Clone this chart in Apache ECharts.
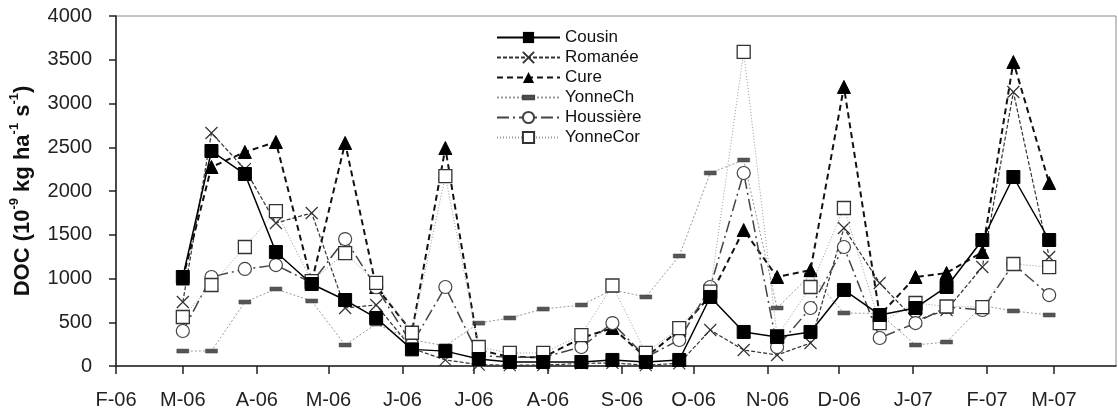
<!DOCTYPE html>
<html>
<head>
<meta charset="utf-8">
<script src="https://cdn.jsdelivr.net/npm/echarts@6/dist/echarts.min.js"></script>
<style>
html,body{margin:0;padding:0;background:#fff;}
#c{width:1118px;height:418px;}
</style>
</head>
<body>
<div id="c"></div>
<script>
// ---- data ----
const dates = ['2006-03-01','2006-03-13','2006-03-27','2006-04-09','2006-04-24','2006-05-08','2006-05-21',
  '2006-06-05','2006-06-19','2006-07-03','2006-07-16','2006-07-30','2006-08-15','2006-08-28','2006-09-11',
  '2006-09-25','2006-10-08','2006-10-22','2006-11-05','2006-11-19','2006-12-03','2006-12-18','2007-01-02',
  '2007-01-15','2007-01-30','2007-02-12','2007-02-27'];
const cousin    = [1017,2457,2194,1303,937,754,549,190,170,80,46,46,46,69,46,69,789,389,331,389,869,583,663,903,1440,2160,1440];
const romanee   = [731,2663,2250,1634,1749,663,697,200,70,15,10,10,30,35,10,30,411,183,126,263,1577,949,520,640,1131,3131,1246];
const cure      = [1000,2274,2446,2560,960,2549,903,389,2491,183,103,100,320,434,100,411,800,1554,1017,1097,3189,580,1017,1063,1303,3474,2091];
const yonneCh   = [171,171,731,880,743,240,480,300,230,490,549,651,697,870,789,1257,2206,2354,663,1040,606,600,240,274,690,629,583];
const houssiere = [400,1017,1109,1154,950,1451,900,250,903,120,100,100,217,491,100,297,903,2206,217,663,1360,320,491,674,640,1166,811];
const yonneCor  = [560,926,1360,1771,970,1291,949,380,2171,217,149,149,354,920,149,434,850,3589,340,903,1806,491,720,680,674,1166,1131];
const seriesNames = ['Cousin','Romanée','Cure','YonneCh','Houssière','YonneCor'];
const monthInitials = ['J','F','M','A','M','J','J','A','S','O','N','D'];
const xMin = '2006-02-01', xMax = '2007-03-27';
const yTicks = {min: 0, max: 4000, interval: 500};

function pairs(vals){ return dates.map((d,i)=>[d, vals[i]]); }

const DAY = 86400000;
const FONT = 'Liberation Sans, Arial, sans-serif';
const chart = echarts.init(document.getElementById('c'), null, {renderer:'canvas'});

const xPath = 'path://M0,0L10,10M0,10L10,0';
// dash inside a square bounding box so legend and points keep the dash shape
const dashPath = 'path://M0,0M12,12M0,4H12V8H0Z';

const option = {
  animation: false,
  backgroundColor: '#fff',
  grid: {left: 112, right: 2, top: 16, bottom: 52, show: true, borderColor: '#8a8a8a', borderWidth: 1},
  legend: {
    orient: 'vertical', left: 491, top: 24, itemWidth: 63, itemHeight: 14, itemGap: 3,
    textStyle: {fontFamily: FONT, fontSize: 17, color: '#111'},
    data: seriesNames
  },
  xAxis: {
    type: 'time', min: xMin, max: xMax,
    minInterval: 28*DAY, maxInterval: 31*DAY,
    axisLine: {lineStyle: {color: '#222', width: 1.5}},
    axisTick: {show: true, inside: false, length: 8, lineStyle: {color: '#222', width: 1.5}},
    splitLine: {show: false},
    axisLabel: {
      fontFamily: FONT, fontSize: 20, color: '#222', margin: 24,
      formatter: function(v){ const d = new Date(v); return monthInitials[d.getMonth()] + '-' + String(d.getFullYear()).slice(2); }
    }
  },
  yAxis: {
    type: 'value', min: yTicks.min, max: yTicks.max, interval: yTicks.interval,
    axisLine: {show: true, lineStyle: {color: '#222', width: 1.5}},
    axisTick: {show: true, length: 7, lineStyle: {color: '#222', width: 1.5}},
    splitLine: {show: false},
    axisLabel: {fontFamily: FONT, fontSize: 20, color: '#222', margin: 24, formatter: function(v){ return String(v); }},
    name: '{b|DOC (10}{s|-9}{b| kg ha}{s|-1}{b| s}{s|-1}{b|)}',
    nameLocation: 'middle', nameRotate: 90, nameGap: 82,
    nameTextStyle: {
      rich: {
        b: {fontFamily: FONT, fontSize: 22, fontWeight: 'bold', color: '#111', lineHeight: 26, verticalAlign: 'bottom'},
        s: {fontFamily: FONT, fontSize: 13, fontWeight: 'bold', color: '#111', lineHeight: 14, verticalAlign: 'top'}
      }
    }
  },
  series: [
    {name: 'Cousin', type: 'line', data: pairs(cousin), z: 8,
     symbol: 'rect', symbolSize: 13,
     lineStyle: {color: '#000', width: 1.5, type: 'solid'},
     itemStyle: {color: '#000', borderColor: '#000'}},
    {name: 'Romanée', type: 'line', data: pairs(romanee), z: 3,
     symbol: xPath, symbolSize: 12,
     lineStyle: {color: '#333', width: 1.2, type: [4,2]},
     itemStyle: {color: '#333', borderColor: '#333', borderWidth: 1.2}},
    {name: 'Cure', type: 'line', data: pairs(cure), z: 4,
     symbol: 'triangle', symbolSize: 13,
     lineStyle: {color: '#111', width: 2, type: [6,4]},
     itemStyle: {color: '#000', borderColor: '#000'}},
    {name: 'YonneCh', type: 'line', data: pairs(yonneCh), z: 2,
     symbol: dashPath, symbolSize: 12,
     lineStyle: {color: '#999', width: 1, type: [2,2]},
     itemStyle: {color: '#555', borderColor: '#444', borderWidth: 0.5}},
    {name: 'Houssière', type: 'line', data: pairs(houssiere), z: 5,
     symbol: 'circle', symbolSize: 13,
     lineStyle: {color: '#444', width: 1.5, type: [12,4,2,4]},
     itemStyle: {color: '#fff', borderColor: '#444', borderWidth: 1.2}},
    {name: 'YonneCor', type: 'line', data: pairs(yonneCor), z: 6,
     symbol: 'rect', symbolSize: 13,
     lineStyle: {color: '#999', width: 1, type: [1,2]},
     itemStyle: {color: '#fff', borderColor: '#333', borderWidth: 1.3}}
  ]
};
chart.setOption(option);
</script>
</body>
</html>
